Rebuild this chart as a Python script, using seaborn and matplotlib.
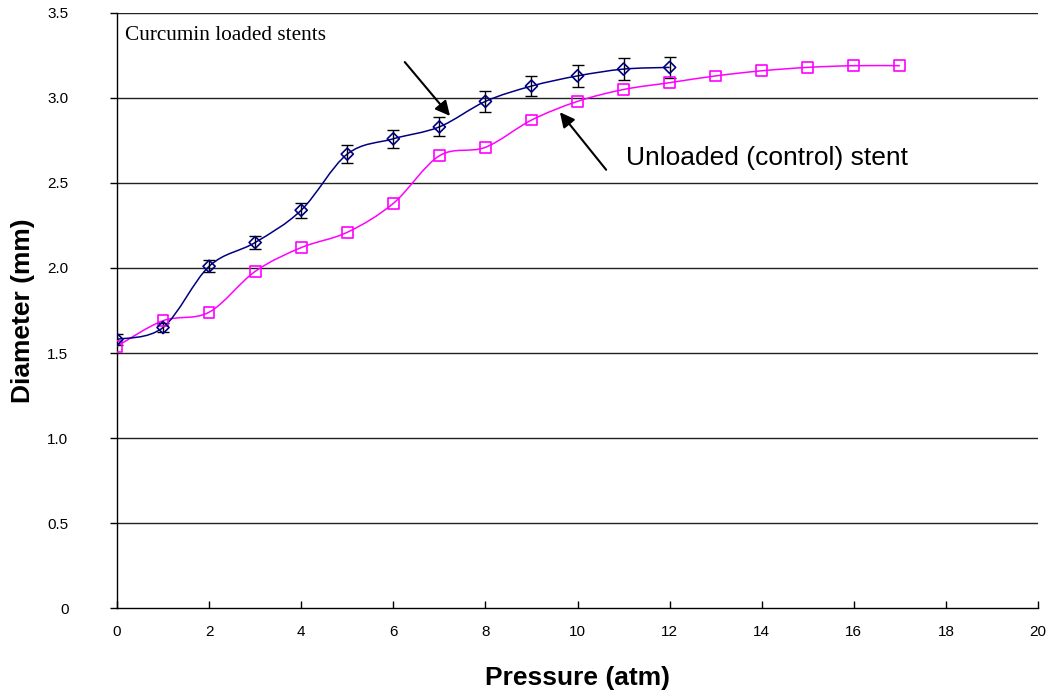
import numpy as np
import pandas as pd
import matplotlib
matplotlib.use("Agg")
import matplotlib.pyplot as plt
from matplotlib.path import Path
from matplotlib.patches import PathPatch
import seaborn as sns

# ---- data ----
loaded_pressure = [0, 1, 2, 3, 4, 5, 6, 7, 8, 9, 10, 11, 12]
loaded_diameter = [1.58, 1.65, 2.01, 2.15, 2.34, 2.67, 2.76, 2.83, 2.98, 3.07, 3.13, 3.17, 3.18]
loaded_error = [0.03, 0.025, 0.035, 0.04, 0.045, 0.055, 0.053, 0.056, 0.06, 0.06, 0.065, 0.065, 0.062]

unloaded_pressure = [0, 1, 2, 3, 4, 5, 6, 7, 8, 9, 10, 11, 12, 13, 14, 15, 16, 17]
unloaded_diameter = [1.54, 1.69, 1.74, 1.98, 2.12, 2.21, 2.38, 2.66, 2.71, 2.87, 2.98, 3.05, 3.09,
                     3.13, 3.16, 3.18, 3.19, 3.19]

x_ticks = [0, 2, 4, 6, 8, 10, 12, 14, 16, 18, 20]
y_ticks = [0, 0.5, 1.0, 1.5, 2.0, 2.5, 3.0, 3.5]
y_tick_labels = ["0", "0.5", "1.0", "1.5", "2.0", "2.5", "3.0", "3.5"]

NAVY = "#000080"
MAGENTA = "#FF00FF"

sns.set_style("white")
plt.rcParams["font.family"] = ["Liberation Sans", "DejaVu Sans"]
plt.rcParams["text.color"] = "black"
plt.rcParams["axes.labelcolor"] = "black"
plt.rcParams["xtick.color"] = "black"
plt.rcParams["ytick.color"] = "black"

fig = plt.figure(figsize=(10.55, 6.91), dpi=100)
ax = fig.add_axes([0.1109, 0.1201, 0.8730, 0.8611])


def smooth_path(xs, ys):
    """Excel-style smoothed line built from cubic Bezier segments."""
    pts = np.column_stack([xs, ys]).astype(float)
    n = len(pts)
    verts = [tuple(pts[0])]
    codes = [Path.MOVETO]
    for i in range(n - 1):
        p0 = pts[i - 1] if i > 0 else pts[i]
        p1 = pts[i]
        p2 = pts[i + 1]
        p3 = pts[i + 2] if i + 2 < n else pts[i + 1]
        c1 = p1 + (p2 - p0) / 6.0
        c2 = p2 - (p3 - p1) / 6.0
        verts += [tuple(c1), tuple(c2), tuple(p2)]
        codes += [Path.CURVE4] * 3
    return Path(verts, codes)


# gridlines
for yv in [0.5, 1.0, 1.5, 2.0, 2.5, 3.0, 3.5]:
    ax.axhline(yv, color="#222222", lw=1.0, zorder=1)

# smoothed lines
ax.add_patch(PathPatch(smooth_path(unloaded_pressure, unloaded_diameter),
                       fill=False, edgecolor=MAGENTA, lw=1.1, zorder=3))
ax.add_patch(PathPatch(smooth_path(loaded_pressure, loaded_diameter),
                       fill=False, edgecolor=NAVY, lw=1.1, zorder=4))

# error bars
ax.errorbar(loaded_pressure, loaded_diameter, yerr=loaded_error, fmt="none",
            ecolor="black", elinewidth=1.0, capsize=4, capthick=1.0, zorder=5)

df_u = pd.DataFrame({"p": unloaded_pressure, "d": unloaded_diameter})
df_l = pd.DataFrame({"p": loaded_pressure, "d": loaded_diameter})
sns.scatterplot(data=df_u, x="p", y="d", marker="s", s=60, facecolors="none",
                edgecolor=MAGENTA, linewidth=1.2, ax=ax, zorder=6)
sns.scatterplot(data=df_l, x="p", y="d", marker="D", s=38, facecolors="none",
                edgecolor=NAVY, linewidth=1.2, ax=ax, zorder=7)

ax.set_xlim(0, 20)
ax.set_ylim(0, 3.5)
ax.set_xticks(x_ticks)
ax.set_xticklabels([str(v) for v in x_ticks])
ax.set_yticks(y_ticks)
ax.set_yticklabels(y_tick_labels)
ax.tick_params(axis="y", direction="out", length=5, width=1, pad=30, labelsize=11,
               colors="black")
ax.tick_params(axis="x", direction="in", length=5, width=1, pad=12, labelsize=11,
               colors="black")
ax.tick_params(left=True, bottom=True)

for s in ["top", "right"]:
    ax.spines[s].set_visible(False)
for s in ["left", "bottom"]:
    ax.spines[s].set_color("black")
    ax.spines[s].set_linewidth(1.0)

ax.set_xlabel("Pressure (atm)", fontsize=19, fontweight="bold", labelpad=20, color="black")
ax.set_ylabel("Diameter (mm)", fontsize=19, fontweight="bold", labelpad=9, color="black")

# annotations
ax.text(0.17, 3.37, "Curcumin loaded stents", fontsize=15.3, color="black",
        family=["Liberation Serif", "DejaVu Serif"], va="center", ha="left")
ax.text(11.05, 2.647, "Unloaded (control) stent", fontsize=19, color="black",
        va="center", ha="left")
ax.annotate("", xy=(7.27, 2.882), xytext=(6.21, 3.224),
            arrowprops=dict(arrowstyle="-|>", color="black", lw=1.5, mutation_scale=22))
ax.annotate("", xy=(9.58, 2.929), xytext=(10.66, 2.565),
            arrowprops=dict(arrowstyle="-|>", color="black", lw=1.5, mutation_scale=22))

fig.savefig("out.png", dpi=100)
